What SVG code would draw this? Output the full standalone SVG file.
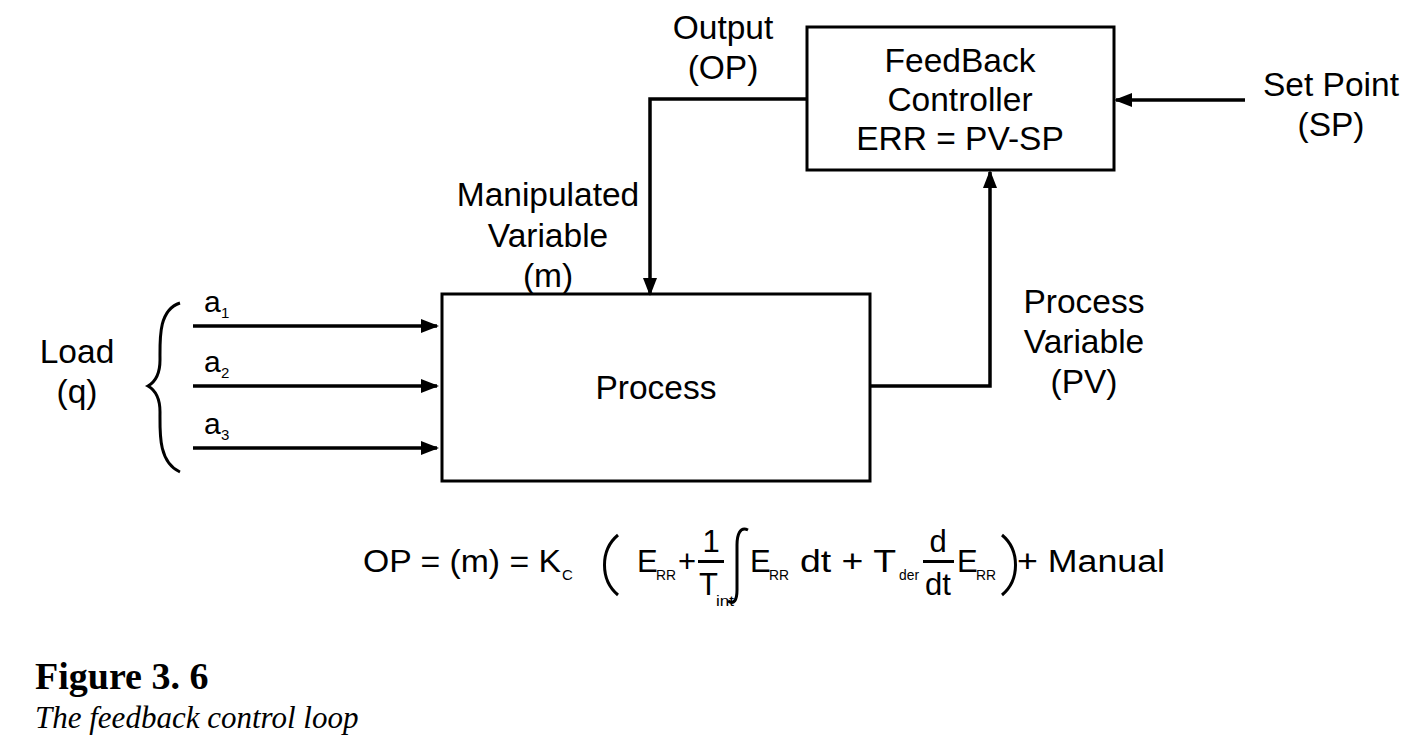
<svg xmlns="http://www.w3.org/2000/svg" width="1414" height="737" viewBox="0 0 1414 737">
<defs>
<marker id="ah" markerWidth="18" markerHeight="14" refX="16" refY="7" orient="auto" markerUnits="userSpaceOnUse"><path d="M0,0 L18,7 L0,14 z" fill="#000"/></marker>
<style>
text{font-family:"Liberation Sans",Arial,sans-serif;font-size:33.5px;fill:#000}
.f{font-size:31px}
.s{font-size:15px}
.b{fill:#fff;stroke:#000;stroke-width:3}
.c{fill:none;stroke:#000;stroke-width:3.5}
.p{fill:none;stroke:#000;stroke-width:3}
</style>
</defs>
<rect width="1414" height="737" fill="#fff"/>
<g id="process"><rect class="b" x="442" y="294" width="428" height="187"/><text x="656" y="399" text-anchor="middle">Process</text></g>
<g id="controller"><rect class="b" x="807" y="27" width="307" height="143"/>
<text x="960" y="72" text-anchor="middle">FeedBack</text><text x="960" y="111" text-anchor="middle">Controller</text><text x="960" y="150" text-anchor="middle">ERR = PV-SP</text></g>
<g id="connectors">
<path class="c" d="M193,326 H437" marker-end="url(#ah)"/>
<path class="c" d="M193,386 H437" marker-end="url(#ah)"/>
<path class="c" d="M193,448 H437" marker-end="url(#ah)"/>
<path class="c" d="M807,99 H650 V294" marker-end="url(#ah)"/>
<path class="c" d="M870,386 H990 V172" marker-end="url(#ah)"/>
<path class="c" d="M1245,100 H1116" marker-end="url(#ah)"/>
<path d="M180,303 C158,310 160,340 160,360 C160,375 155,382 148,386 C155,390 160,397 160,412 C160,432 158,462 180,472" fill="none" stroke="#000" stroke-width="3"/>
</g>
<g id="labels">
<text x="723" y="39" text-anchor="middle">Output</text><text x="723" y="79" text-anchor="middle">(OP)</text>
<text x="1331" y="96" text-anchor="middle">Set Point</text><text x="1331" y="136" text-anchor="middle">(SP)</text>
<text x="548" y="206" text-anchor="middle">Manipulated</text><text x="548" y="247" text-anchor="middle">Variable</text><text x="548" y="287" text-anchor="middle">(m)</text>
<text x="1084" y="313" text-anchor="middle">Process</text><text x="1084" y="353" text-anchor="middle">Variable</text><text x="1084" y="393" text-anchor="middle">(PV)</text>
<text x="77" y="363" text-anchor="middle">Load</text><text x="77" y="403" text-anchor="middle">(q)</text>
<text x="204" y="312" style="font-size:30px">a</text><text class="s" x="221" y="318">1</text>
<text x="204" y="372" style="font-size:30px">a</text><text class="s" x="221" y="378">2</text>
<text x="204" y="434" style="font-size:30px">a</text><text class="s" x="221" y="440">3</text>
</g>
<g id="formula">
<text class="f" x="363" y="572" textLength="198" lengthAdjust="spacingAndGlyphs">OP = (m) = K</text><text class="s" x="562" y="580">C</text>
<path class="p" d="M618,535 C600,550 600,580 618,595"/>
<text class="f" x="637" y="572">E</text><text class="s" x="656" y="580" textLength="20" lengthAdjust="spacingAndGlyphs">RR</text><text class="f" x="678" y="572">+</text>
<text class="f" x="711" y="552" text-anchor="middle">1</text>
<rect x="698" y="560" width="26" height="3"/>
<text class="f" x="699" y="595">T</text><text class="s" x="716" y="606" textLength="18" lengthAdjust="spacingAndGlyphs">int</text>
<path d="M748,530 C740,526 737,535 737,545 L737,590 C737,600 734,605 728,601" fill="none" stroke="#000" stroke-width="3"/>
<text class="f" x="750" y="572">E</text><text class="s" x="769" y="580" textLength="20" lengthAdjust="spacingAndGlyphs">RR</text>
<text class="f" x="800" y="572" textLength="96" lengthAdjust="spacingAndGlyphs">dt + T</text><text class="s" x="899" y="580" textLength="20" lengthAdjust="spacingAndGlyphs">der</text>
<text class="f" x="938" y="552" text-anchor="middle">d</text>
<rect x="923" y="560" width="31" height="3"/>
<text class="f" x="938" y="595" text-anchor="middle">dt</text>
<text class="f" x="957" y="572">E</text><text class="s" x="976" y="580" textLength="20" lengthAdjust="spacingAndGlyphs">RR</text>
<path class="p" d="M1002,535 C1020,550 1020,580 1002,595"/>
<text class="f" x="1017" y="572" textLength="148" lengthAdjust="spacingAndGlyphs">+ Manual</text>
</g>
<g id="caption">
<text x="35" y="689" style="font-family:'Liberation Serif',serif;font-weight:bold;font-size:38px">Figure 3. 6</text>
<text x="35" y="728" style="font-family:'Liberation Serif',serif;font-style:italic;font-size:31px">The feedback control loop</text>
</g>
</svg>
